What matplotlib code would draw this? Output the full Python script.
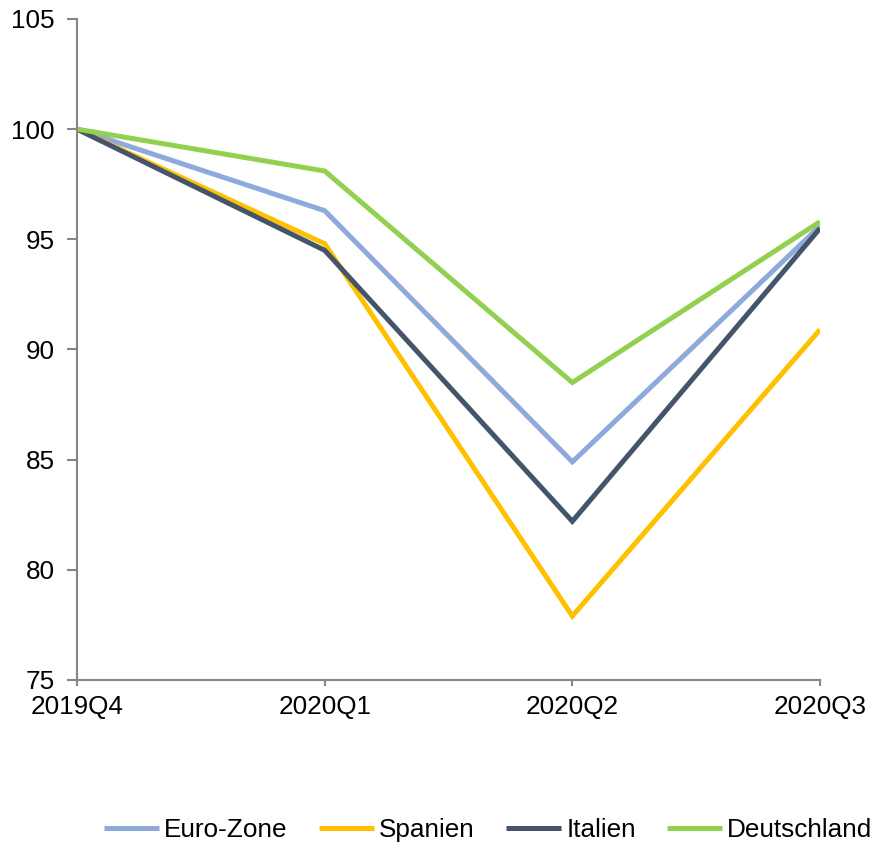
import matplotlib
matplotlib.use("Agg")
import matplotlib.pyplot as plt

# GDP index, 2019Q4 = 100
quarters = ["2019Q4", "2020Q1", "2020Q2", "2020Q3"]
euro_zone = [100.0, 96.3, 84.9, 95.6]
spanien = [100.0, 94.8, 77.9, 90.9]
italien = [100.0, 94.5, 82.2, 95.5]
deutschland = [100.0, 98.1, 88.5, 95.8]

series = [
    ("Euro-Zone", euro_zone, "#8EA9DB"),
    ("Spanien", spanien, "#FFC000"),
    ("Italien", italien, "#44546A"),
    ("Deutschland", deutschland, "#92D050"),
]

plt.rcParams["font.family"] = ["Liberation Sans", "DejaVu Sans"]
FS = 18.8

fig = plt.figure(figsize=(8.72, 8.43), dpi=100)
ax = fig.add_axes([0.0883, 0.1934, 0.8521, 0.7841])

x = range(len(quarters))
for label, values, color in series:
    ax.plot(x, values, color=color, linewidth=3.6, label=label,
            solid_joinstyle="miter", solid_capstyle="butt")

ax.set_xlim(0, len(quarters) - 1)
ax.set_ylim(75, 105)
ax.set_yticks(range(75, 106, 5))
ax.set_xticks(list(x))
ax.set_xticklabels(quarters)

for side in ["top", "right"]:
    ax.spines[side].set_visible(False)
for side in ["left", "bottom"]:
    ax.spines[side].set_color("#868686")
    ax.spines[side].set_linewidth(1.5)
ax.tick_params(axis="both", colors="#868686", labelcolor="black",
               labelsize=FS, width=1.5)
ax.tick_params(axis="y", length=7, pad=9)
ax.tick_params(axis="x", length=4, pad=7)

fig.legend(loc="center", bbox_to_anchor=(0.56, 0.0154), ncol=4,
           frameon=False, fontsize=FS, handlelength=2.1,
           handletextpad=0.2, columnspacing=1.2, borderpad=0.1)

fig.savefig("out.png", dpi=100)
